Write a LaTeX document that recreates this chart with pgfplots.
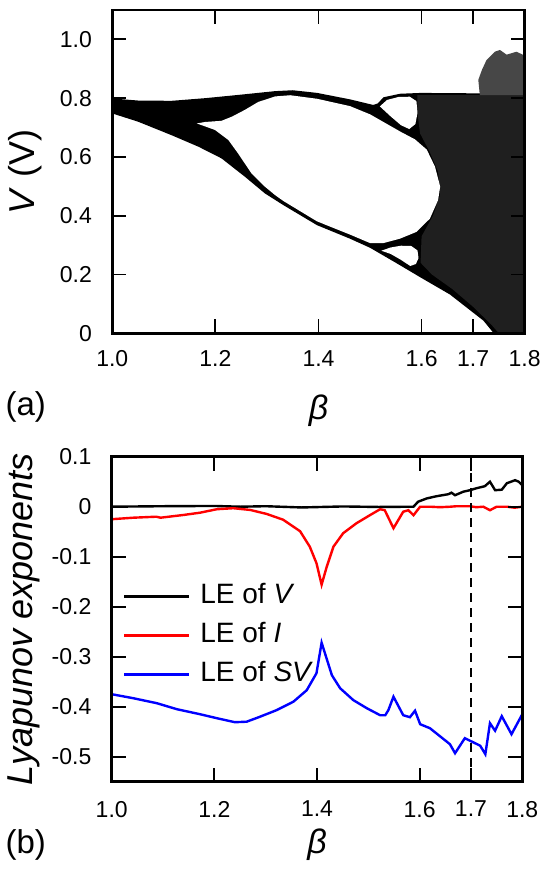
\documentclass[border=0pt]{standalone}
\usepackage{fontspec}
\setmainfont{Liberation Sans}
\usepackage{pgfplots}
\pgfplotsset{compat=1.18}

\pgfplotsset{
  panel/.style={
    scale only axis, axis on top, enlargelimits=false,
    every axis/.append style={line width=2.8pt},
    xmin=1.0, xmax=1.8,
    xtick={1.0,1.2,1.4,1.6,1.7,1.8},
    xticklabels={1.0,1.2,1.4,1.6,1.7,1.8},
    tick align=inside, major tick length=14pt,
    every tick/.style={line width=1.8pt, black},
    tick label style={font=\fontsize{23}{23}\selectfont, inner sep=0pt},
    xticklabel style={anchor=north, yshift=-16pt},
    yticklabel style={anchor=east, xshift=-19pt},
    label style={font=\fontsize{36}{36}\selectfont},
  },
}

\begin{document}
\begin{tikzpicture}
\path[use as bounding box] (0pt,0pt) rectangle (543pt,-870pt);

% (a) bifurcation diagram, black regions traced as filled outlines
\begin{axis}[panel,
  at={(112.3pt,-333.3pt)}, anchor=south west,
  width=412.4pt, height=323.3pt,
  ymin=0, ymax=1.1,
  ytick={0,0.2,0.4,0.6,0.8,1.0},
  yticklabels={0,0.2,0.4,0.6,0.8,1.0},
  xlabel={\itshape β},
  xlabel style={at={(axis description cs:0.5,0)}, anchor=center, yshift=-77pt, font=\fontsize{34}{34}\selectfont},
  ylabel={\textit{V} (V)},
  ylabel style={at={(axis description cs:-0.211,0.5)}, anchor=center},
]
% envelope
\addplot[fill=black, draw=none] coordinates {
  (1.0,0.799) (1.05,0.792) (1.115,0.791) (1.18,0.80) (1.244,0.811) (1.316,0.824)
  (1.35,0.827) (1.397,0.818) (1.461,0.796) (1.506,0.777) (1.515,0.782) (1.526,0.803)
  (1.558,0.815) (1.6,0.818) (1.65,0.817) (1.8,0.816) (1.8,0) (1.74,0) (1.72,0.043)
  (1.655,0.132) (1.6,0.188) (1.55,0.24) (1.5,0.291) (1.461,0.322) (1.397,0.368)
  (1.332,0.436) (1.296,0.476) (1.257,0.533) (1.212,0.595) (1.167,0.635) (1.115,0.674)
  (1.05,0.72) (1.0,0.748)} -- cycle;
% chaotic band (speckled)
\addplot[fill=black!88, draw=none] coordinates {
  (1.592,0.81) (1.8,0.81) (1.8,0.0) (1.75,0.0) (1.735,0.03) (1.7,0.09) (1.66,0.15)
  (1.62,0.2) (1.598,0.24) (1.6,0.33) (1.622,0.4) (1.636,0.47) (1.632,0.55)
  (1.615,0.62) (1.597,0.68) (1.592,0.75)} -- cycle;
% cloud above the band
\addplot[fill=black!72, draw=none] coordinates {
  (1.713,0.81) (1.71,0.862) (1.717,0.896) (1.726,0.93) (1.742,0.958) (1.752,0.964)
  (1.765,0.948) (1.784,0.958) (1.8,0.945) (1.8,0.81)} -- cycle;
% big period-2 loop
\addplot[fill=white, draw=none] coordinates {
  (1.164,0.714) (1.18,0.719) (1.212,0.723) (1.232,0.737) (1.257,0.76) (1.283,0.787)
  (1.316,0.806) (1.345,0.81) (1.397,0.798) (1.461,0.773) (1.5,0.745) (1.53,0.715)
  (1.56,0.685) (1.587,0.66) (1.61,0.625) (1.626,0.567) (1.636,0.499) (1.632,0.453)
  (1.616,0.39) (1.59,0.345) (1.558,0.322) (1.526,0.307) (1.5,0.307) (1.461,0.336)
  (1.397,0.381) (1.332,0.45) (1.316,0.47) (1.296,0.499) (1.27,0.544) (1.244,0.612)
  (1.225,0.658) (1.199,0.692)} -- cycle;
% small upper loop
\addplot[fill=white, draw=none] coordinates {
  (1.519,0.772) (1.533,0.794) (1.555,0.804) (1.577,0.805) (1.59,0.79) (1.592,0.75)
  (1.588,0.712) (1.576,0.695) (1.56,0.708) (1.54,0.738)} -- cycle;
% small lower loop
\addplot[fill=white, draw=none] coordinates {
  (1.522,0.281) (1.54,0.292) (1.56,0.298) (1.58,0.297) (1.592,0.282) (1.594,0.256)
  (1.589,0.236) (1.578,0.229) (1.56,0.25) (1.54,0.27)} -- cycle;
\end{axis}

% (b) Lyapunov exponents
\begin{axis}[panel,
  at={(111.7pt,-781.7pt)}, anchor=south west,
  width=410.6pt, height=325pt,
  ymin=-0.55, ymax=0.1,
  ytick={-0.5,-0.4,-0.3,-0.2,-0.1,0,0.1},
  yticklabels={-0.5,-0.4,-0.3,-0.2,-0.1,0,0.1},
  xticklabel style={yshift=-2pt},
  xlabel={\itshape β},
  xlabel style={at={(axis description cs:0.5,0)}, anchor=center, yshift=-63pt, font=\fontsize{34}{34}\selectfont},
  ylabel={\textit{Lyapunov exponents}},
  ylabel style={at={(axis description cs:-0.214,0.5)}, anchor=center},
  legend style={at={(axis description cs:0.024,0.62)}, anchor=north west,
    draw=none, fill=none, inner sep=0pt, row sep=9pt, column sep=8pt,
    font=\fontsize{28}{28}\selectfont,
    nodes={text height=20pt, text depth=6pt}},
  legend cell align=left,
  legend image code/.code={\draw[#1] (0pt,0pt) -- (65pt,0pt);},
]
\addplot[black, line width=2.4pt] coordinates {
  (1.0,0.0) (1.1,0.001) (1.2,0.0015) (1.25,0.0) (1.3,0.001) (1.37,-0.0015) (1.45,0.0005)
  (1.52,-0.0005) (1.588,0.0) (1.597,0.010) (1.614,0.0166) (1.633,0.021) (1.656,0.025)
  (1.662,0.028) (1.669,0.023) (1.685,0.030) (1.698,0.033) (1.711,0.037) (1.727,0.041)
  (1.737,0.050) (1.747,0.033) (1.76,0.034) (1.77,0.047) (1.786,0.053) (1.793,0.05)
  (1.8,0.043)};
\addlegendentry{LE of \textit{V}}
\addplot[red, line width=2.4pt] coordinates {
  (1.0,-0.025) (1.042,-0.022) (1.087,-0.020) (1.095,-0.022) (1.14,-0.0165) (1.172,-0.012)
  (1.205,-0.005) (1.237,-0.003) (1.27,-0.0065) (1.302,-0.0145) (1.334,-0.026)
  (1.367,-0.049) (1.386,-0.08) (1.399,-0.113) (1.409,-0.156) (1.419,-0.12) (1.432,-0.08)
  (1.451,-0.053) (1.477,-0.033) (1.503,-0.017) (1.523,-0.005) (1.532,-0.007)
  (1.549,-0.043) (1.568,-0.010) (1.578,-0.007) (1.588,-0.017) (1.601,0.0) (1.62,0.0)
  (1.64,-0.001) (1.66,0.0) (1.672,0.001) (1.698,0.001) (1.71,-0.001) (1.724,0.0)
  (1.737,-0.007) (1.75,0.0) (1.77,0.0) (1.785,-0.002) (1.8,0.0)};
\addlegendentry{LE of \textit{I}}
\addplot[blue, line width=2.4pt] coordinates {
  (1.0,-0.375) (1.042,-0.383) (1.088,-0.393) (1.127,-0.405) (1.172,-0.415) (1.205,-0.423)
  (1.24,-0.431) (1.263,-0.430) (1.289,-0.420) (1.321,-0.407) (1.354,-0.390) (1.38,-0.367)
  (1.399,-0.333) (1.409,-0.272) (1.429,-0.337) (1.445,-0.363) (1.471,-0.387)
  (1.497,-0.403) (1.523,-0.417) (1.533,-0.417) (1.539,-0.407) (1.549,-0.380)
  (1.568,-0.417) (1.581,-0.421) (1.591,-0.408) (1.601,-0.435) (1.620,-0.443)
  (1.653,-0.470) (1.659,-0.475) (1.669,-0.493) (1.688,-0.463) (1.718,-0.478)
  (1.728,-0.495) (1.737,-0.433) (1.747,-0.448) (1.760,-0.419) (1.779,-0.455) (1.8,-0.415)};
\addlegendentry{LE of \textit{SV}}
\addplot[black, line width=1.8pt, dash pattern=on 9pt off 6pt, forget plot] coordinates {(1.7,-0.55) (1.7,0.1)};
\end{axis}

\node[anchor=west, font=\fontsize{33}{33}\selectfont] at (2pt,-407pt) {(a)};
\node[anchor=west, font=\fontsize{33}{33}\selectfont] at (2pt,-845pt) {(b)};
\end{tikzpicture}
\end{document}
